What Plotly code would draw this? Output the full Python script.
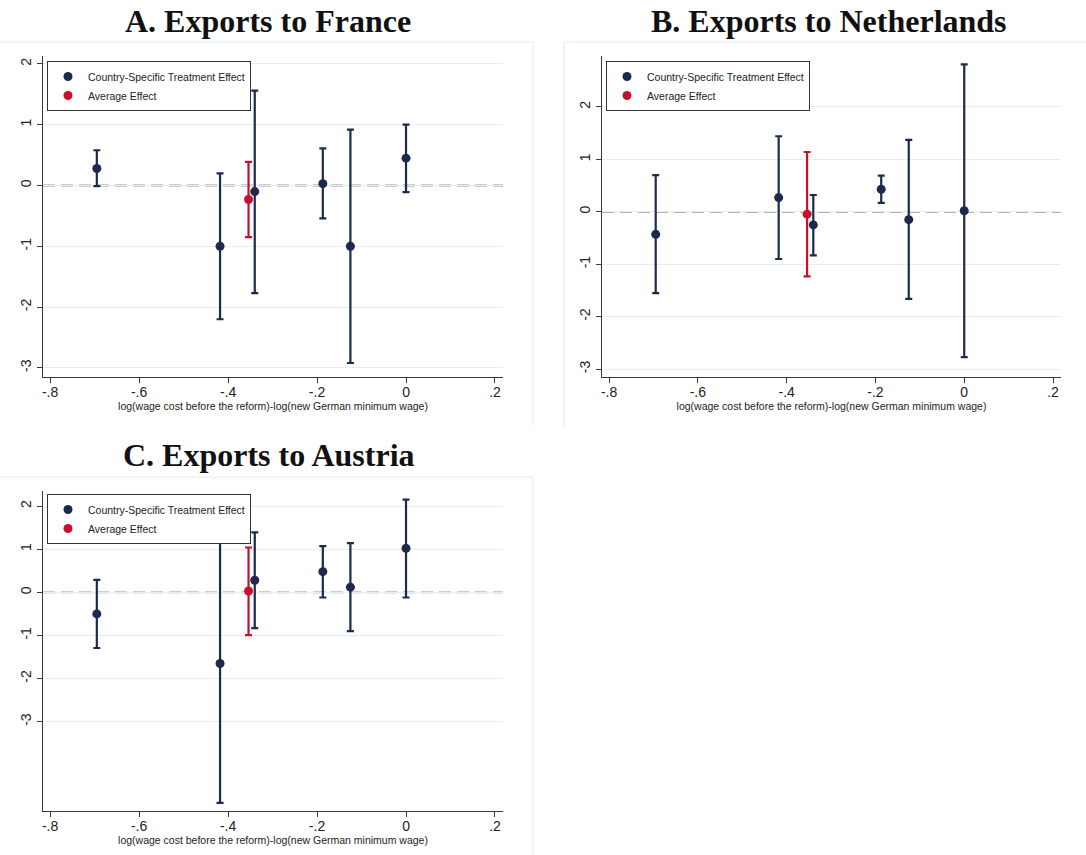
"""Country-specific treatment effects on exports, three panels (Stata-style)."""

import plotly.graph_objects as go

W, H = 1086, 855

# x positions: log(wage cost before reform) - log(new German minimum wage)
x_country = [-0.695, -0.418, -0.340, -0.187, -0.125, 0.0]
x_avg = [-0.354]

# A. France
fr_coef = [0.28, -1.00, -0.10, 0.03, -1.00, 0.45]
fr_lo = [-0.01, -2.20, -1.77, -0.54, -2.92, -0.11]
fr_hi = [0.58, 0.20, 1.56, 0.61, 0.92, 1.00]
fr_avg, fr_avg_lo, fr_avg_hi = [-0.23], [-0.85], [0.39]

# B. Netherlands
nl_coef = [-0.43, 0.27, -0.25, 0.43, -0.15, 0.02]
nl_lo = [-1.55, -0.90, -0.83, 0.17, -1.66, -2.77]
nl_hi = [0.70, 1.44, 0.32, 0.69, 1.37, 2.81]
nl_avg, nl_avg_lo, nl_avg_hi = [-0.045], [-1.23], [1.14]

# C. Austria
at_coef = [-0.50, -1.65, 0.28, 0.48, 0.12, 1.02]
at_lo = [-1.29, -4.88, -0.83, -0.12, -0.90, -0.12]
at_hi = [0.29, 1.58, 1.39, 1.07, 1.14, 2.15]
at_avg, at_avg_lo, at_avg_hi = [0.03], [-0.99], [1.04]

x_ticks = [-0.8, -0.6, -0.4, -0.2, 0, 0.2]
x_ticklabels = ["-.8", "-.6", "-.4", "-.2", "0", ".2"]
y_ticks = [-3, -2, -1, 0, 1, 2]
y_ticklabels = ["-3", "-2", "-1", "0", "1", "2"]

NAVY = "#1c2a4e"
RED = "#c8102e"
GRID = "#e6eef0"
AXIS = "#3a3a3a"
SANS = "Liberation Sans, Arial, sans-serif"
SERIF = "Liberation Serif, Times New Roman, serif"


def px_x(p):
    return p / W


def px_y(p):
    return 1 - p / H


def ci_trace(x, coef, lo, hi, color, name, xa, ya, legend):
    return go.Scatter(
        x=x,
        y=coef,
        mode="markers",
        marker=dict(color=color, size=9),
        error_y=dict(
            type="data",
            symmetric=False,
            array=[h - c for h, c in zip(hi, coef)],
            arrayminus=[c - l for c, l in zip(coef, lo)],
            color=color,
            thickness=2.2,
            width=3.5,
        ),
        name=name,
        xaxis=xa,
        yaxis=ya,
        legend=legend,
        showlegend=True,
    )


panels = [
    # (suffix, data..., x-domain px, y-domain px, y range, legend pos px)
    ("", fr_coef, fr_lo, fr_hi, fr_avg, fr_avg_lo, fr_avg_hi, (43, 503), (56, 377), [-3.15, 2.13], (47, 61)),
    ("2", nl_coef, nl_lo, nl_hi, nl_avg, nl_avg_lo, nl_avg_hi, (602, 1061), (56, 377), [-3.15, 2.97], (606, 61)),
    ("3", at_coef, at_lo, at_hi, at_avg, at_avg_lo, at_avg_hi, (43, 503), (491, 811), [-5.07, 2.35], (47, 494)),
]

fig = go.Figure()
layout = {}
shapes = []
for sfx, coef, lo, hi, avg, avg_lo, avg_hi, (xl, xr), (yt, yb), yr, (lx, ly) in panels:
    xa, ya = "x" + sfx, "y" + sfx
    leg = "legend" + sfx
    fig.add_trace(ci_trace(x_avg, avg, avg_lo, avg_hi, RED, "Average Effect", xa, ya, leg))
    fig.add_trace(ci_trace(x_country, coef, lo, hi, NAVY, "Country-Specific Treatment Effect", xa, ya, leg))

    layout["xaxis" + sfx] = dict(
        domain=[px_x(xl), px_x(xr)],
        anchor=ya,
        range=[-0.816, 0.218],
        tickvals=x_ticks,
        ticktext=x_ticklabels,
        ticks="outside",
        ticklen=5,
        tickcolor=AXIS,
        ticklabelstandoff=-3,
        showgrid=False,
        zeroline=False,
        showline=True,
        linecolor=AXIS,
        linewidth=1.2,
        tickfont=dict(family=SANS, size=14, color="#222"),
        title=dict(
            text="log(wage cost before the reform)-log(new German minimum wage)",
            font=dict(family=SANS, size=10.5, color="#222"),
            standoff=0,
        ),
    )
    layout["yaxis" + sfx] = dict(
        domain=[px_y(yb), px_y(yt)],
        anchor=xa,
        range=yr,
        tickvals=y_ticks,
        ticktext=y_ticklabels,
        tickangle=-90,
        ticks="outside",
        ticklen=5,
        tickcolor=AXIS,
        showgrid=True,
        gridcolor=GRID,
        gridwidth=1,
        zeroline=False,
        showline=True,
        linecolor=AXIS,
        linewidth=1.2,
        tickfont=dict(family=SANS, size=14, color="#222"),
    )
    layout[leg] = dict(
        x=px_x(lx),
        y=px_y(ly),
        xanchor="left",
        yanchor="top",
        bgcolor="white",
        bordercolor="#333",
        borderwidth=1,
        traceorder="reversed",
        font=dict(family=SANS, size=10.5, color="#222"),
        itemsizing="trace",
        tracegroupgap=0,
    )
    shapes.append(dict(
        type="line", xref=xa + " domain", yref=ya,
        x0=0, x1=1, y0=0, y1=0,
        line=dict(color="#999999", width=1.8, dash="12px,6px"),
        layer="below",
    ))

# faint panel frames
FRAME = dict(color="#e4ecee", width=1)
for x0, y0, x1, y1 in [
    (0, 42, 533, 42), (533, 42, 533, 426),
    (564, 42, 1086, 42), (564, 42, 564, 426),
    (0, 477, 533, 477), (533, 477, 533, 855),
]:
    shapes.append(dict(type="line", xref="paper", yref="paper",
                       x0=px_x(x0), x1=px_x(x1), y0=px_y(y0), y1=px_y(y1), line=FRAME))

titles = [
    ("A. Exports to France", 268, 21),
    ("B. Exports to Netherlands", 829, 21),
    ("C. Exports to Austria", 269, 455),
]
annotations = [
    dict(text=f"<b>{t}</b>", x=px_x(cx), y=px_y(cy), xref="paper", yref="paper",
         xanchor="center", yanchor="middle", showarrow=False,
         font=dict(family=SERIF, size=32, color="#111"))
    for t, cx, cy in titles
]

fig.update_layout(
    **layout,
    shapes=shapes,
    annotations=annotations,
    width=W,
    height=H,
    margin=dict(l=0, r=0, t=0, b=0),
    paper_bgcolor="white",
    plot_bgcolor="white",
)

# drop the browser's default 8px body margin so the figure sits at the page corner
fig.write_html(
    "out.html",
    config={"displayModeBar": False},
    post_script="document.body.style.margin='0';",
)
